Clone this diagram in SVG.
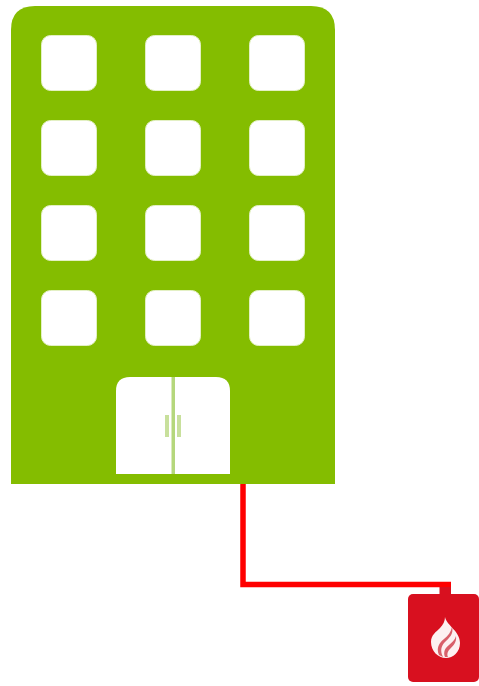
<svg xmlns="http://www.w3.org/2000/svg" width="479" height="686" viewBox="0 0 479 686">
<style>
.win{fill:#fff;stroke:#e3f0c4;stroke-width:1}
.door{fill:#fff}
.mark{fill:#b5d77c}
.handle{fill:#c8e09c}
.wire{fill:none;stroke:#ff0000;stroke-width:5.500}
</style>
<defs><rect id="w" class="win" x="0.500" y="0.500" width="55" height="55" rx="9"/></defs>
<g id="building">
<path d="M11 484V30Q11 6 35 6H311Q335 6 335 30V484Z" fill="#84bd00"/>
<use href="#w" x="41" y="35"/><use href="#w" x="145" y="35"/><use href="#w" x="249" y="35"/>
<use href="#w" x="41" y="120"/><use href="#w" x="145" y="120"/><use href="#w" x="249" y="120"/>
<use href="#w" x="41" y="205"/><use href="#w" x="145" y="205"/><use href="#w" x="249" y="205"/>
<use href="#w" x="41" y="290"/><use href="#w" x="145" y="290"/><use href="#w" x="249" y="290"/>
<path class="door" d="M116 474V391Q116 377 130 377H216Q230 377 230 391V474Z"/>
<rect class="mark" x="171.500" y="377" width="3.500" height="97"/>
<rect class="handle" x="165" y="415" width="4" height="22"/>
<rect class="handle" x="177" y="415" width="4" height="22"/>
</g>
<g id="connectors">
<path class="wire" d="M243 484V584.500H451"/>
</g>
<g id="alarm">
<rect x="439.500" y="587" width="11.500" height="9" fill="#d8101f"/>
<rect x="408" y="594" width="71" height="88" rx="5" fill="#d8101f"/>
<path d="M445 617C447 626 460 631 460 643C460 652 453 658 446 658C438 658 431 651 431 642C431 635 436 632 440 628C443 625 445 621 445 617Z" fill="#fdf1f1"/>
<path d="M452 627C454 634 449 638 445 642C441 646 440 651 443 657L439 655C436 648 439 643 444 639C448 636 451 632 452 627Z" fill="#d8606a"/>
<path d="M456 636C457 642 453 646 450 649C447 652 447 655 448 657L445 657C443 652 445 648 449 645C452 642 455 640 456 636Z" fill="#d8606a"/>
</g>
</svg>
